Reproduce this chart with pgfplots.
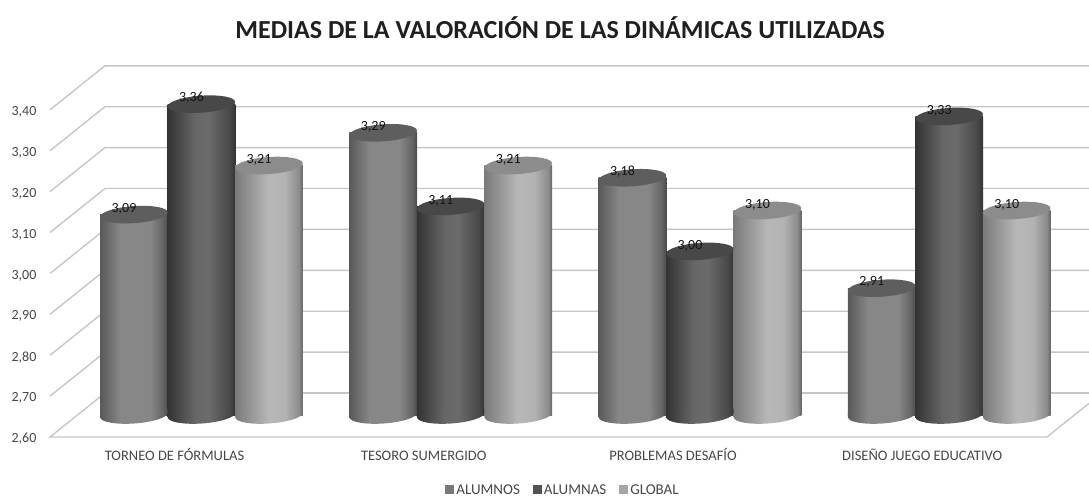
\documentclass[border=0pt]{standalone}
\usepackage{pgfplots}
\usepackage{pgfplotstable}
\usepackage{fontspec}
\setmainfont{Carlito}
\pgfplotsset{compat=1.18}
\definecolor{gridc}{HTML}{C6C6C6}
\definecolor{capA}{HTML}{5E5E5E}
\definecolor{capB}{HTML}{484848}
\definecolor{capC}{HTML}{8C8C8C}
\pgfdeclarehorizontalshading{cylA}{100bp}{color(0bp)=(black!65);color(25bp)=(black!65);color(40bp)=(black!47);color(62bp)=(black!47);color(71bp)=(black!60);color(75bp)=(black!70);color(100bp)=(black!70)}
\pgfdeclarehorizontalshading{cylB}{100bp}{color(0bp)=(black!80);color(25bp)=(black!80);color(45bp)=(black!60);color(55bp)=(black!58);color(71bp)=(black!72);color(75bp)=(black!80);color(100bp)=(black!80)}
\pgfdeclarehorizontalshading{cylC}{100bp}{color(0bp)=(black!52);color(25bp)=(black!52);color(50bp)=(black!28);color(62bp)=(black!30);color(72bp)=(black!45);color(75bp)=(black!60);color(100bp)=(black!60)}
\newcommand{\lowerhalf}{\pgftransformrotate{4}\pgfpathmoveto{\pgfqpoint{-33.8pt}{4pt}}\pgfpathlineto{\pgfqpoint{-33.8pt}{0pt}}\pgfpatharc{180}{360}{33.8pt and 8.5pt}\pgfpathlineto{\pgfqpoint{33.8pt}{4pt}}\pgfpathclose}
\pgfdeclareplotmark{botA}{\lowerhalf\pgfshadepath{cylA}{0}\pgfusepath{discard}}
\pgfdeclareplotmark{botB}{\lowerhalf\pgfshadepath{cylB}{0}\pgfusepath{discard}}
\pgfdeclareplotmark{botC}{\lowerhalf\pgfshadepath{cylC}{0}\pgfusepath{discard}}
\pgfdeclareplotmark{capE}{\pgftransformrotate{4}\pgfpathellipse{\pgfpointorigin}{\pgfqpoint{33.8pt}{0pt}}{\pgfqpoint{0pt}{8.5pt}}\pgfusepathqfill}
\pgfplotstableread{
xa xb xc base a b c la lb lc
-0.2708 0 0.2708 2.60 3.09 3.36 3.21 3,09 3,36 3,21
0.7292 1 1.2708 2.60 3.29 3.11 3.21 3,29 3,11 3,21
1.7292 2 2.2708 2.60 3.18 3.00 3.10 3,18 3,00 3,10
2.7292 3 3.2708 2.60 2.91 3.33 3.10 2,91 3,33 3,10
}\datatable
\begin{document}
\begin{tikzpicture}
\begin{axis}[
  width=1089pt,height=498pt,scale only axis,
  xmin=-0.8084,xmax=3.5607,
  y coord trafo/.code={\pgfmathparse{#1-2.6}},
  y coord inv trafo/.code={\pgfmathparse{#1+2.6}},
  ymin=2.3971,ymax=3.6147,
  axis line style={draw=none},
  tick style={draw=none},
  xtick={0,1,2,3},
  xticklabels={TORNEO DE FÓRMULAS,TESORO SUMERGIDO,PROBLEMAS DESAFÍO,DISEÑO JUEGO EDUCATIVO},
  ytick={2.6,2.7,2.8,2.9,3.0,3.1,3.2,3.3,3.4},
  yticklabels={{2,60},{2,70},{2,80},{2,90},{3,00},{3,10},{3,20},{3,30},{3,40}},
  xticklabel style={anchor=center,font=\fontsize{14.5}{16}\selectfont,text=black!72,xshift=-27pt,yshift=42pt,text height=10pt,text depth=0pt},
  yticklabel style={anchor=center,font=\fontsize{14}{16}\selectfont,text=black!72,xshift=24pt,yshift=-24pt},
  title={MEDIAS DE LA VALORACIÓN DE LAS DINÁMICAS UTILIZADAS},
  title style={at={(axis description cs:0.5143,0.932)},anchor=center,font=\fontsize{26}{30}\selectfont\bfseries,text=black!88},
  legend columns=3,
  legend style={at={(axis description cs:0.517,0.016)},anchor=center,draw=none,fill=none,inner sep=0pt,font=\fontsize{15}{15}\selectfont,text=black!72,
    /tikz/every even column/.append style={column sep=11pt}},
  legend image code/.code={\fill[#1] (2pt,-4pt) rectangle (11pt,5pt);},
  grid line/.style={draw=gridc,line width=1.4pt,forget plot},
]
% walls and floor
\addplot[grid line] coordinates {(-0.6078,3.3462)(-0.3872,3.4538)(3.5607,3.4538)};
\addplot[grid line] coordinates {(-0.6078,3.2462)(-0.3872,3.3538)(3.5607,3.3538)};
\addplot[grid line] coordinates {(-0.6078,3.1462)(-0.3872,3.2538)(3.5607,3.2538)};
\addplot[grid line] coordinates {(-0.6078,3.0462)(-0.3872,3.1538)(3.5607,3.1538)};
\addplot[grid line] coordinates {(-0.6078,2.9462)(-0.3872,3.0538)(3.5607,3.0538)};
\addplot[grid line] coordinates {(-0.6078,2.8462)(-0.3872,2.9538)(3.5607,2.9538)};
\addplot[grid line] coordinates {(-0.6078,2.7462)(-0.3872,2.8538)(3.5607,2.8538)};
\addplot[grid line] coordinates {(-0.6078,2.6462)(-0.3872,2.7538)(3.5607,2.7538)};
\addplot[grid line] coordinates {(-0.3872,2.6538)(-0.6078,2.5462)(3.3921,2.5462)(3.5607,2.6285)};
\addplot[grid line] coordinates {(-0.3872,2.6538)(3.5607,2.6538)};
\pgfplotsset{
  bodyA/.style={ybar,bar shift=0pt,bar width=67.6pt,draw=none,shade,shading=cylA,forget plot},
  bodyB/.style={ybar,bar shift=0pt,bar width=67.6pt,draw=none,shade,shading=cylB,forget plot},
  bodyC/.style={ybar,bar shift=0pt,bar width=67.6pt,draw=none,shade,shading=cylC,forget plot},
}
% ALUMNOS
\addplot[only marks,mark=botA,draw=none,forget plot] table[x=xa,y=base] {\datatable};
\addplot[bodyA] coordinates {(-0.2708,3.09)};
\addplot[bodyA] coordinates {(0.7292,3.29)};
\addplot[bodyA] coordinates {(1.7292,3.18)};
\addplot[bodyA] coordinates {(2.7292,2.91)};
\addplot[only marks,mark=capE,draw=none,fill=capA,mark options={draw=none,fill=capA},forget plot] table[x=xa,y=a] {\datatable};
% ALUMNAS
\addplot[only marks,mark=botB,draw=none,forget plot] table[x=xb,y=base] {\datatable};
\addplot[bodyB] coordinates {(0,3.36)};
\addplot[bodyB] coordinates {(1,3.11)};
\addplot[bodyB] coordinates {(2,3.00)};
\addplot[bodyB] coordinates {(3,3.33)};
\addplot[only marks,mark=capE,draw=none,fill=capB,mark options={draw=none,fill=capB},forget plot] table[x=xb,y=b] {\datatable};
% GLOBAL
\addplot[only marks,mark=botC,draw=none,forget plot] table[x=xc,y=base] {\datatable};
\addplot[bodyC] coordinates {(0.2708,3.21)};
\addplot[bodyC] coordinates {(1.2708,3.21)};
\addplot[bodyC] coordinates {(2.2708,3.10)};
\addplot[bodyC] coordinates {(3.2708,3.10)};
\addplot[only marks,mark=capE,draw=none,fill=capC,mark options={draw=none,fill=capC},forget plot] table[x=xc,y=c] {\datatable};
% value labels
\pgfplotsset{vals/.style={only marks,mark=none,forget plot,point meta=explicit symbolic,nodes near coords,
  nodes near coords style={anchor=center,xshift=-10pt,yshift=6pt,font=\fontsize{14}{16}\selectfont,text=black!92}}}
\addplot[vals] table[x=xa,y=a,meta=la] {\datatable};
\addplot[vals] table[x=xb,y=b,meta=lb] {\datatable};
\addplot[vals] table[x=xc,y=c,meta=lc] {\datatable};
\addlegendimage{fill=black!53,draw=none}
\addlegendentry{ALUMNOS}
\addlegendimage{fill=black!68,draw=none}
\addlegendentry{ALUMNAS}
\addlegendimage{fill=black!35,draw=none}
\addlegendentry{GLOBAL}
\end{axis}
\end{tikzpicture}
\end{document}
